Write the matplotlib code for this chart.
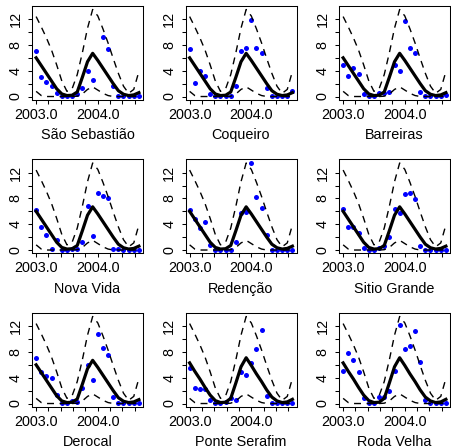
import matplotlib
matplotlib.use("Agg")
import matplotlib.pyplot as plt
import numpy as np

plt.rcParams['font.family'] = ['Liberation Sans', 'DejaVu Sans']

# monthly time axis, Jan 2003 .. Sep 2004
months = 2003 + np.arange(21) / 12

sites = ["São Sebastião", "Coqueiro", "Barreiras",
         "Nova Vida", "Redenção", "Sitio Grande",
         "Derocal", "Ponte Serafim", "Roda Velha"]

obs_sao_sebastiao = [7.1, 3.1, 2.2, 1.6, 0.5, 0.05, 0.05, 0.1, 0.4, 1.3, 3.9,
                     2.5, np.nan, 9.3, 7.3, 1.6, 0.05, 0.05, 0.05, 0.05, 0.05]
obs_coqueiro = [7.3, 2.1, 4.0, 3.2, 0.4, 0.05, 0.05, 0.15, 0.15, 1.6, 7.0,
                7.6, 11.8, 7.5, 6.7, 1.3, 0.05, 0.05, 0.05, 0.05, 0.8]
obs_barreiras = [4.85, 3.15, 4.5, 3.45, 0.35, 0.05, 0.05, 0.5, 0.5, 0.65, 4.85,
                 3.95, 11.7, 7.5, 6.8, 0.7, 0.05, 0.05, 0.05, 0.05, 0.25]
obs_nova_vida = [6.2, 3.6, 2.35, 0.2, 1.5, 0.05, 0.05, 0.2, 0.2, 1.2, 6.9,
                 2.2, 8.85, 8.4, 8.0, 0.2, 0.1, 0.05, 0.05, 0.05, 0.05]
obs_redencao = [6.2, 4.8, 3.4, 4.3, 0.8, 0.02, 0.02, 0.05, 0.05, 1.2, 5.7,
                5.9, 13.45, 8.2, 6.45, 2.4, 0.02, 0.02, 0.02, 0.02, 0.02]
obs_sitio_grande = [6.3, 3.6, 3.6, 2.65, 0.3, 0.02, 0.02, 0.3, 0.55, 2.0, 6.4,
                    5.7, 8.7, 8.8, 7.9, 0.65, 0.02, 0.02, 0.02, 0.02, 0.02]
obs_derocal = [7.0, 4.9, 4.2, 3.9, 1.3, 0.1, 0.1, 0.45, 0.3, 2.35, 6.0,
               3.6, 10.8, 8.6, 7.6, 1.0, 0.05, 0.05, 0.05, 0.05, 0.05]
obs_ponte_serafim = [5.5, 2.4, 2.3, 2.2, 0.5, 0.05, 0.05, 0.3, 0.9, 0.5, 4.9,
                     4.5, 6.35, 8.5, 11.4, 1.15, 0.05, 0.05, 0.05, 0.05, 0.05]
obs_roda_velha = [5.0, 7.8, 6.7, 4.9, 0.8, 0.05, 0.05, 0.95, 0.95, 2.0, 5.0,
                  12.2, 8.4, 8.9, 11.2, 6.5, 0.5, 0.1, 0.05, 0.05, 0.05]

observed = [obs_sao_sebastiao, obs_coqueiro, obs_barreiras,
            obs_nova_vida, obs_redencao, obs_sitio_grande,
            obs_derocal, obs_ponte_serafim, obs_roda_velha]

# fitted seasonal curve and its bounds
mean_fit = [6.0, 4.8, 3.6, 2.4, 1.2, 0.4, 0.15, 0.2, 0.7, 3.0, 5.4,
            6.7, 5.6, 4.4, 3.2, 2.0, 0.9, 0.35, 0.15, 0.25, 0.6]
mean_fit_alt = [6.3, 5.0, 3.8, 2.5, 1.3, 0.45, 0.15, 0.2, 0.8, 3.2, 5.7,
                7.1, 5.9, 4.6, 3.4, 2.1, 1.0, 0.4, 0.15, 0.25, 0.65]
upper_fit = [12.4, 10.8, 9.1, 7.2, 4.9, 2.4, 0.8, 1.2, 3.4, 6.8, 10.6,
             13.5, 12.5, 10.5, 8.3, 5.9, 3.6, 1.6, 0.5, 1.1, 3.9]
lower_fit = [0.8, 0.15, 0.0, 0.0, 0.0, 0.0, 0.0, 0.0, 0.05, 0.4, 1.1,
             1.5, 1.0, 0.5, 0.15, 0.0, 0.0, 0.0, 0.0, 0.0, 0.05]

xticks = np.arange(2003.0, 2004.61, 0.2)
xticklabels = ["2003.0", "", "", "", "", "2004.0", "", "", ""]
yticks = [0, 2, 4, 6, 8, 10, 12]
yticklabels = ["0", "", "4", "", "8", "", "12"]

W, H = 451, 448
fig = plt.figure(figsize=(W / 100, H / 100), dpi=100)

for i, name in enumerate(sites):
    r, c = divmod(i, 3)
    left = (32 + 153.5 * c) / W
    bottom = 1 - (6 + 153.5 * r + 94) / H
    ax = fig.add_axes([left, bottom, 111 / W, 94 / H])

    m = mean_fit_alt if i >= 7 else mean_fit
    ax.plot(months, observed[i], 'o', color='blue', ms=3.6, mew=0, zorder=2)
    ax.plot(months, m, color='black', lw=2.3, zorder=3)
    ax.plot(months, upper_fit, color='black', lw=1.0, ls=(0, (5, 4)), zorder=3)
    ax.plot(months, lower_fit, color='black', lw=1.0, ls=(0, (5, 4)), zorder=3)

    ax.set_xlim(2002.933, 2004.733)
    ax.set_ylim(-0.54, 14.04)
    ax.set_xticks(xticks)
    ax.set_xticklabels(xticklabels)
    ax.set_yticks(yticks)
    ax.set_yticklabels(yticklabels, rotation=90, va='center')
    ax.tick_params(direction='out', length=3.2, width=0.75, labelsize=10.4,
                   colors='black')
    ax.tick_params(axis='x', pad=2.5)
    ax.tick_params(axis='y', pad=3.5)
    for s in ax.spines.values():
        s.set_linewidth(0.75)
    ax.set_xlabel(name, fontsize=10.4, labelpad=4.5)

fig.savefig("out.png", dpi=100)
